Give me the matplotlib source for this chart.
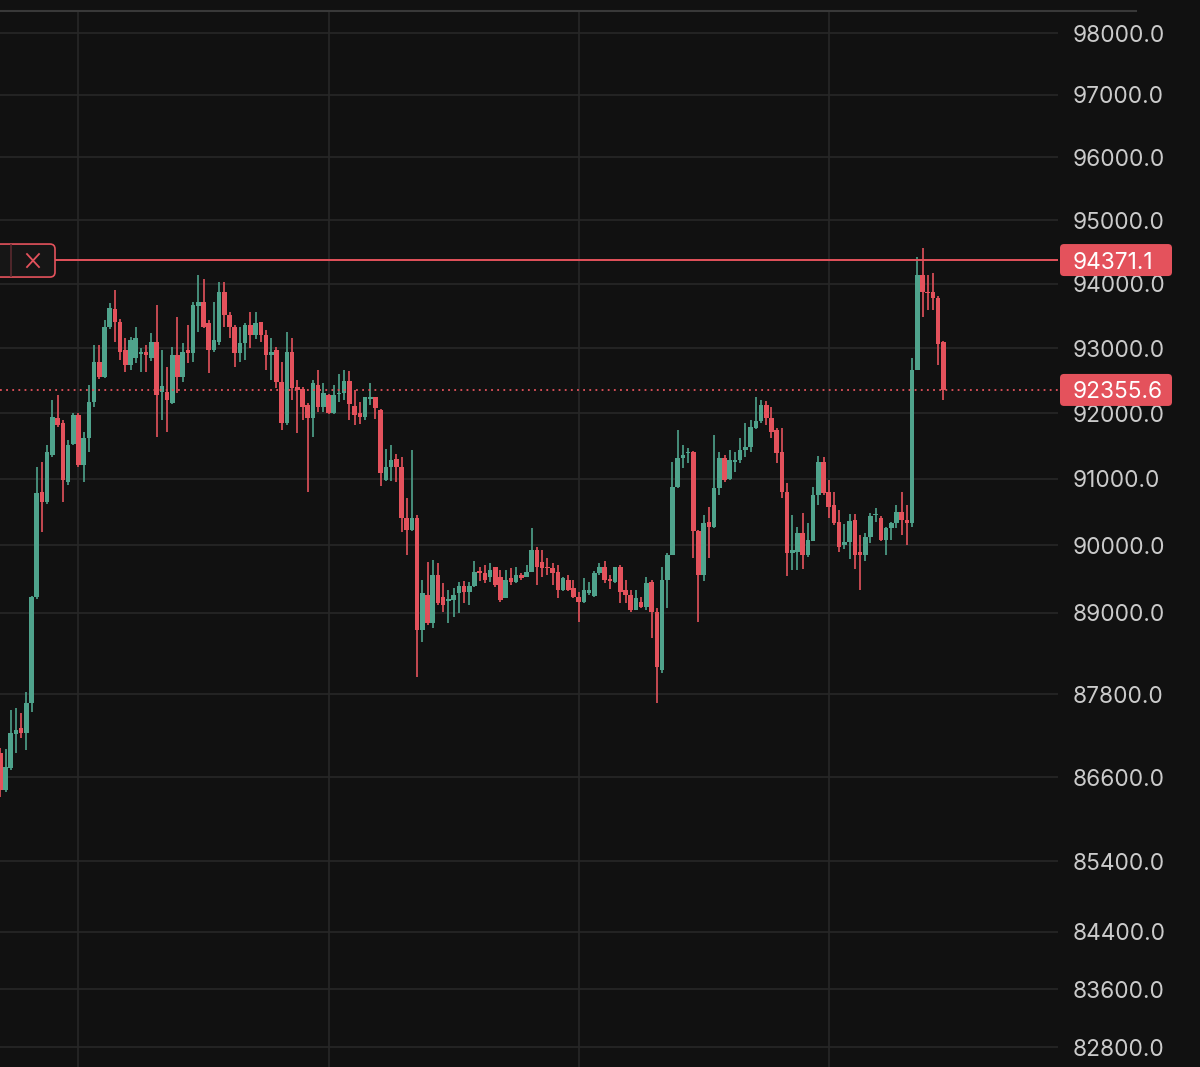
import numpy as np
import matplotlib
matplotlib.use('Agg')
import matplotlib.pyplot as plt
from matplotlib.patches import FancyBboxPatch
from matplotlib.lines import Line2D
from matplotlib.transforms import IdentityTransform
from matplotlib.ticker import NullLocator

plt.rcParams['font.family'] = ['Inter', 'DejaVu Sans']

# ---------------- data ----------------
opens = [86950, 86414, 86730, 87224, 87311, 87238, 87673, 89232, 90802, 90651,
         91362, 91926, 91850, 90954, 91530, 91972, 91211, 91620, 92170, 92785,
         92555, 93327, 93606, 93404, 92970, 92740, 92847, 92910, 92940, 92847,
         93095, 92330, 92325, 92155, 92893, 92555, 92970, 92925, 93653, 93715,
         93390, 92970, 93095, 93870, 93513, 93327, 92925, 93080, 93357, 93200,
         93404, 93200, 92893, 92970, 92478, 91850, 92940, 92400, 92370, 92125,
         91926, 92432, 92094, 92280, 92003, 92290, 92310, 92495, 92110, 92000,
         91940, 92220, 92240, 92048, 90990, 91180, 91300, 91180, 90410, 90232,
         90410, 88745, 89260, 88850, 89560, 89230, 89170, 89190, 89290, 89390,
         89310, 89400, 89620, 89590, 89530, 89680, 89530, 89215, 89515, 89455,
         89560, 89530, 89600, 89931, 89750, 89680, 89660, 89610, 89337, 89485,
         89370, 89230, 89160, 89290, 89250, 89590, 89680, 89500, 89455, 89680,
         89337, 89260, 89040, 89160, 89085, 89455, 89010, 88156, 89485, 89860,
         90878, 91318, 91390, 91406, 90217, 89560, 90350, 90277, 90863, 91318,
         91000, 91260, 91290, 91437, 91480, 91775, 91880, 92125, 91926, 91744,
         91406, 90800, 89890, 89900, 90187, 89860, 90060, 90757, 91256, 90800,
         90600, 90350, 90010, 90050, 90380, 89900, 89860, 90120, 90450, 90410,
         90082, 90262, 90337, 90500, 90380, 90337, 92662, 94136, 93870, 93870,
         93780, 93095]
highs = [87020, 87007, 87572, 87601, 87528, 87834, 89250, 91180, 91256, 91510,
         92201, 92278, 91900, 91591, 92003, 92003, 91713, 92432, 93048, 93048,
         93435, 93700, 93903, 93450, 93157, 93172, 93327, 93000, 93048, 93234,
         93668, 92969, 92708, 93017, 93482, 93080, 93357, 93715, 94136, 94074,
         93435, 93715, 94027, 94027, 93560, 93357, 93327, 93390, 93560, 93560,
         93404, 93280, 93157, 93017, 92785, 93250, 93157, 92508, 92400, 92155,
         92508, 92662, 92463, 92300, 92432, 92600, 92662, 92647, 92355, 92170,
         92250, 92460, 92250, 92060, 91460, 91510, 91380, 91330, 90712, 91440,
         90455, 89485, 89750, 89780, 89740, 89440, 89340, 89360, 89460, 89470,
         89460, 89760, 89680, 89710, 89740, 89680, 89634, 89634, 89665, 89680,
         89590, 89710, 90260, 89980, 89931, 89810, 89740, 89710, 89530, 89560,
         89485, 89300, 89515, 89450, 89620, 89740, 89760, 89560, 89680, 89710,
         89485, 89337, 89337, 89230, 89530, 89485, 89070, 89680, 89890, 91260,
         91744, 91514, 91470, 91420, 90232, 90455, 90575, 91665, 91406, 91360,
         91437, 91406, 91620, 91850, 91896, 92250, 92200, 92186, 92094, 91775,
         91775, 90940, 90455, 90277, 90485, 90337, 90878, 91350, 91330, 90984,
         90800, 90530, 90320, 90470, 90470, 90150, 90187, 90485, 90560, 90440,
         90277, 90350, 90605, 90800, 90605, 92847, 94420, 94560, 94136, 94170,
         93810, 93110]
lows = [86315, 86385, 86702, 86950, 87166, 86993, 87543, 89200, 90202, 90620,
        91330, 91790, 90651, 90908, 91514, 91180, 90954, 91406, 92094, 92520,
        92540, 93300, 93095, 92816, 92631, 92662, 92770, 92631, 92631, 92800,
        91636, 91896, 91713, 92140, 92310, 92478, 92770, 92785, 93250, 93311,
        92616, 92940, 93048, 93327, 93157, 92708, 92785, 92816, 93000, 93141,
        93095, 92662, 92508, 92386, 91744, 91820, 92201, 91700, 91896, 90800,
        91636, 92018, 92018, 91990, 91990, 92170, 92201, 91896, 91820, 91836,
        91900, 92130, 91910, 90900, 90970, 90970, 90960, 90200, 89860, 90220,
        88050, 88570, 88820, 88780, 89120, 89010, 88850, 88930, 89000, 89150,
        89120, 89380, 89470, 89440, 89455, 89380, 89160, 89215, 89410, 89440,
        89485, 89530, 89600, 89410, 89530, 89560, 89410, 89215, 89320, 89320,
        89215, 88860, 89140, 89260, 89230, 89560, 89440, 89350, 89440, 89140,
        89140, 89010, 89040, 89070, 89040, 88630, 87670, 88110, 89070, 89860,
        90860, 91165, 91240, 89810, 88860, 89470, 89810, 90262, 90757, 90954,
        90984, 91100, 91240, 91330, 91406, 91760, 91850, 91820, 91620, 91240,
        90710, 89540, 89634, 89634, 89650, 89830, 90060, 90605, 90757, 90410,
        90300, 89900, 89940, 89790, 89650, 89330, 89770, 90030, 90350, 90060,
        89850, 90082, 90262, 90150, 90000, 90277, 92662, 93480, 93590, 93590,
        92740, 92201]
closes = [86414, 86745, 87238, 87282, 87238, 87673, 89232, 90787, 90651, 91406,
          91942, 91820, 90984, 91514, 91972, 91211, 91620, 92170, 92785, 92555,
          93327, 93622, 93404, 92940, 92740, 93126, 93157, 92940, 92900, 93095,
          92278, 92420, 92201, 92893, 92555, 92940, 92925, 93668, 93715, 93327,
          92970, 93126, 93870, 93513, 93327, 92925, 93080, 93357, 93200, 93390,
          93200, 92893, 92940, 92478, 91850, 92940, 92386, 92355, 92094, 91926,
          92463, 92094, 92310, 92003, 92280, 92310, 92495, 92140, 91972, 91940,
          92240, 92250, 92080, 91090, 91180, 91290, 91180, 90410, 90232, 90410,
          88745, 89290, 88850, 89560, 89150, 89110, 89200, 89260, 89390, 89310,
          89400, 89610, 89590, 89480, 89634, 89410, 89187, 89485, 89455, 89560,
          89515, 89600, 89931, 89680, 89660, 89660, 89590, 89337, 89515, 89337,
          89230, 89160, 89337, 89337, 89590, 89680, 89485, 89470, 89680, 89307,
          89260, 89040, 89215, 89085, 89440, 89010, 88200, 89485, 89860, 90878,
          91318, 91360, 91406, 90217, 89560, 90337, 90277, 90863, 91318, 90984,
          91287, 91290, 91437, 91480, 91790, 91880, 92125, 91926, 91713, 91390,
          90800, 89890, 89931, 90187, 89860, 90082, 90757, 91256, 90790, 90575,
          90337, 89980, 90050, 90370, 89860, 89860, 90120, 90440, 90470, 90082,
          90262, 90337, 90500, 90380, 90337, 92662, 94136, 93870, 93850, 93780,
          93060, 92356]

y_ticks = [98000, 97000, 96000, 95000, 94000, 93000, 92000, 91000, 90000,
           89000, 87800, 86600, 85400, 84400, 83600, 82800]
time_grid = [15, 63, 111, 159]
alert_price = 94371.1
last_price = 92355.6

# ---------------- style ----------------
BG = '#111111'
UP = '#4fa38c'
DOWN = '#e4525c'
GRID = '#272727'
LABEL = '#cbcbcb'

W, H = 1200, 1067
fig = plt.figure(figsize=(W / 100, H / 100), dpi=100, facecolor=BG)
ax = fig.add_axes([0, 0, 1058 / W, 1 - 11 / H])
ax.set_facecolor(BG)
ax.set_yscale('log')
ax.set_ylim(82527, 98359)
ax.set_xlim(-0.06, 203.0)

o = np.array(opens, float)
h = np.array(highs, float)
l = np.array(lows, float)
c = np.array(closes, float)
x = np.arange(len(o))
col = np.where(c >= o, UP, DOWN)

ax.vlines(x, l, h, colors=col, linewidth=1.2, zorder=3)
bottom = np.minimum(o, c)
height = np.maximum(np.abs(c - o), bottom * 0.0002)
ax.bar(x, height, bottom=bottom, width=0.88, color=col, linewidth=0, zorder=4)

# axes / grid
ax.set_yticks(y_ticks)
ax.set_yticklabels([f'{v:.1f}' for v in y_ticks])
ax.yaxis.set_minor_locator(NullLocator())
ax.yaxis.tick_right()
ax.tick_params(axis='y', length=0, pad=10.5, labelsize=16.3, labelcolor=LABEL)
ax.set_xticks(time_grid)
ax.tick_params(axis='x', length=0, labelbottom=False)
ax.grid(True, color=GRID, linewidth=1.2, zorder=0)
ax.set_axisbelow(True)
for s in ax.spines.values():
    s.set_visible(False)

# price lines
ax.axhline(alert_price, xmin=50 / 1058, color=DOWN, linewidth=1.4, zorder=6)
ax.axhline(last_price, color=DOWN, linewidth=1.3, linestyle=(0, (1, 2.4)), zorder=6)

ident = IdentityTransform()

# top border line
fig.add_artist(Line2D([0, 1136], [H - 11, H - 11], transform=ident,
                      color='#393939', linewidth=1.5))

# price label boxes on the axis
for price in (alert_price, last_price):
    yp = ax.transData.transform((0, price))[1]
    fig.add_artist(FancyBboxPatch((1060, yp - 16), 112, 32,
                                  boxstyle='round,pad=0,rounding_size=4',
                                  transform=ident, facecolor=DOWN,
                                  edgecolor='none', zorder=5))
    fig.text(1073 / W, yp / H, f'{price:.1f}', color='white', fontsize=16.3,
             ha='left', va='center_baseline', zorder=6)

# alert handle on the left
ya = ax.transData.transform((0, alert_price))[1]
fig.add_artist(FancyBboxPatch((-20, ya - 17), 75, 33,
                              boxstyle='round,pad=0,rounding_size=5',
                              transform=ident, facecolor='#161616',
                              edgecolor=DOWN, linewidth=1.2, zorder=5))
fig.add_artist(Line2D([11, 11], [ya - 16, ya + 15], transform=ident,
                      color='#5a2a2f', linewidth=1.2, zorder=6))
fig.add_artist(Line2D([27, 39], [ya + 6, ya - 7], transform=ident,
                      color=DOWN, linewidth=1.3, zorder=6))
fig.add_artist(Line2D([27, 39], [ya - 7, ya + 6], transform=ident,
                      color=DOWN, linewidth=1.3, zorder=6))

fig.savefig('out.png', dpi=100, facecolor=BG)
